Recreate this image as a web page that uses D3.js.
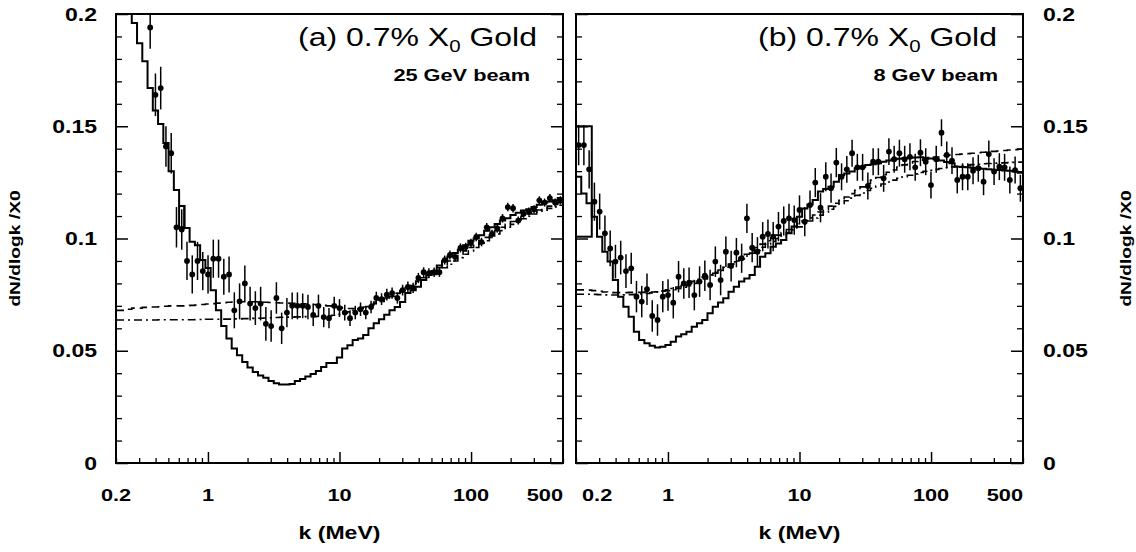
<!DOCTYPE html>
<html>
<head>
<meta charset="utf-8">
<script src="https://cdn.jsdelivr.net/npm/d3@7"></script>
<style>
  body { margin: 0; background: #fff; }
  text { font-family: "Liberation Sans", Arial, sans-serif; fill: #000; }
</style>
</head>
<body>
<svg id="chart" width="1136" height="552"></svg>
<script>
// binning: 85 log-spaced bins from 0.2 to 500 MeV
const kMin = 0.2, kMax = 500, nBins = 85;
const xTickLabels = [0.2, 1, 10, 100, 500];
const xMajorTicks = [1, 10, 100];
const yTickLabels = [0, 0.05, 0.1, 0.15, 0.2];

// ---- panel (a) 25 GeV ----
const solidA = [
  0.240, 0.220, 0.205, 0.196, 0.187, 0.179, 0.167, 0.157, 0.151, 0.1425,
  0.130, 0.1216, 0.1145, 0.1047, 0.0985, 0.097, 0.0904, 0.0869, 0.077, 0.068,
  0.061, 0.0555, 0.051, 0.048, 0.045, 0.0425, 0.0405, 0.039, 0.038, 0.0365,
  0.0355, 0.035, 0.035, 0.0352, 0.0365, 0.0374, 0.0385, 0.0396, 0.041, 0.0428,
  0.0445, 0.0445, 0.047, 0.051, 0.0525, 0.0548, 0.0555, 0.057, 0.060, 0.0623,
  0.064, 0.066, 0.068, 0.0695, 0.0717, 0.0757, 0.077, 0.0785, 0.0815, 0.0837,
  0.0855, 0.088, 0.090, 0.092, 0.0935, 0.095, 0.097, 0.099, 0.100, 0.1015,
  0.1035, 0.105, 0.1065, 0.108, 0.109, 0.1105, 0.1115, 0.1125, 0.113, 0.114,
  0.115, 0.116, 0.1165, 0.117, 0.118
];
const dashedA = [
  0.068, 0.068, 0.0685, 0.069, 0.069, 0.0693, 0.0695, 0.0695, 0.0696, 0.0698,
  0.070, 0.070, 0.070, 0.070, 0.0702, 0.0704, 0.0706, 0.0708, 0.071, 0.0712,
  0.0714, 0.0716, 0.0717, 0.0718, 0.0718, 0.0718, 0.0718, 0.0717, 0.0716, 0.0715,
  0.0714, 0.0713, 0.0712, 0.0711, 0.071, 0.0709, 0.0708, 0.0706, 0.0704, 0.0702,
  0.070, 0.0697, 0.0693, 0.069, 0.0688, 0.0688, 0.069, 0.0695, 0.0702, 0.071,
  0.072, 0.073, 0.0742, 0.0755, 0.0768, 0.0781, 0.0795, 0.081, 0.0825, 0.084,
  0.0855, 0.087, 0.0885, 0.090, 0.0915, 0.093, 0.0945, 0.096, 0.0975, 0.099,
  0.1005, 0.102, 0.1035, 0.105, 0.1063, 0.1076, 0.1088, 0.1099, 0.1109, 0.1118,
  0.1127, 0.1136, 0.1144, 0.1152, 0.116
];
const dashDotA = [
  0.0637, 0.0637, 0.0637, 0.0637, 0.0637, 0.0637, 0.0637, 0.0637, 0.0638, 0.0638,
  0.0638, 0.0638, 0.0638, 0.0638, 0.0638, 0.0639, 0.0639, 0.064, 0.064, 0.064,
  0.0641, 0.0641, 0.0642, 0.0642, 0.0643, 0.0643, 0.0644, 0.0645, 0.0646, 0.0647,
  0.0648, 0.0649, 0.065, 0.065, 0.0651, 0.0651, 0.0652, 0.0652, 0.0653, 0.0654,
  0.0655, 0.0658, 0.0662, 0.0667, 0.0673, 0.068, 0.0688, 0.0697, 0.0707, 0.0717,
  0.0725, 0.0735, 0.0745, 0.0756, 0.0767, 0.0778, 0.079, 0.0802, 0.0814, 0.0827,
  0.084, 0.0855, 0.087, 0.0885, 0.090, 0.0915, 0.093, 0.0945, 0.096, 0.0975,
  0.099, 0.1005, 0.102, 0.1035, 0.105, 0.1063, 0.1076, 0.1088, 0.1099, 0.1109,
  0.1118, 0.1126, 0.1134, 0.1141, 0.1148
];
const pointsA = [
  null, null, null, null, null, null,
  0.194, 0.164, 0.167, 0.141, 0.138, 0.105, 0.104, 0.090, 0.084, 0.090,
  0.0855, 0.084, 0.091, 0.091, 0.083, 0.084, 0.068, 0.072, 0.080, 0.071,
  0.069, 0.071, 0.062, 0.061, 0.0735, 0.060, 0.067, 0.070, 0.070, 0.070,
  0.0695, 0.066, 0.070, 0.065, 0.0645, 0.070, 0.069, 0.067, 0.0645, 0.067,
  0.0685, 0.067, 0.0695, 0.0735, 0.073, 0.075, 0.0757, 0.0735, 0.077, 0.0784,
  0.078, 0.0824, 0.085, 0.0846, 0.085, 0.085, 0.0904, 0.0927, 0.0918, 0.0958,
  0.0962, 0.098, 0.1007, 0.0984, 0.105, 0.102, 0.1045, 0.109, 0.114, 0.1135,
  0.108, 0.111, 0.112, 0.113, 0.117, 0.116, 0.118, 0.116, 0.117
];
const errA = [
  null, null, null, null, null, null,
  0.0095, 0.0095, 0.0095, 0.009, 0.009, 0.009, 0.009, 0.0085, 0.0085, 0.0085,
  0.0085, 0.0085, 0.0085, 0.0085, 0.008, 0.008, 0.008, 0.008, 0.008, 0.0075,
  0.0075, 0.0075, 0.0075, 0.007, 0.007, 0.007, 0.0065, 0.006, 0.006, 0.0055,
  0.0055, 0.005, 0.005, 0.0045, 0.0045, 0.004, 0.004, 0.0035, 0.0035, 0.003,
  0.003, 0.003, 0.0028, 0.0028, 0.0026, 0.0026, 0.0025, 0.0025, 0.0024, 0.0024,
  0.0023, 0.0023, 0.0022, 0.0022, 0.0021, 0.0021, 0.002, 0.002, 0.002, 0.002,
  0.0019, 0.0019, 0.0019, 0.0019, 0.0019, 0.0019, 0.0019, 0.0019, 0.0019, 0.0019,
  0.0018, 0.0018, 0.0018, 0.0018, 0.0018, 0.0018, 0.0018, 0.0018, 0.0018
];
const boxBinsA = [12, 12];
const boxRangeA = [0.105, 0.1145];

// ---- panel (b) 8 GeV ----
const solidB = [
  0.1275, 0.120, 0.1157, 0.1097, 0.1008, 0.0941, 0.0897, 0.0815, 0.0741, 0.0696,
  0.0652, 0.0585, 0.0548, 0.0533, 0.0522, 0.0515, 0.0518, 0.0526, 0.054, 0.0563,
  0.0574, 0.0585, 0.0607, 0.0622, 0.0637, 0.0667, 0.0696, 0.0715, 0.0734, 0.0763,
  0.0785, 0.0808, 0.0822, 0.0837, 0.0874, 0.0919, 0.0934, 0.0963, 0.0978, 0.0993,
  0.1023, 0.1053, 0.1097, 0.1134, 0.1152, 0.1171, 0.1209, 0.122, 0.1231, 0.1253,
  0.1283, 0.129, 0.1298, 0.1313, 0.132, 0.1327, 0.1331, 0.1335, 0.1342, 0.1347,
  0.1353, 0.1355, 0.1357, 0.136, 0.1361, 0.1362, 0.136, 0.1356, 0.1353, 0.1347,
  0.1341, 0.1335, 0.132, 0.1319, 0.1317, 0.1315, 0.1313, 0.1311, 0.1308, 0.1306,
  0.1305, 0.1303, 0.1302, 0.1298, 0.1293
];
const dashedB = [
  0.0771, 0.0771, 0.077, 0.0768, 0.0765, 0.0762, 0.076, 0.0759, 0.0759, 0.0759,
  0.076, 0.076, 0.076, 0.0761, 0.0762, 0.0763, 0.0765, 0.0768, 0.0772, 0.0777,
  0.0783, 0.079, 0.080, 0.081, 0.082, 0.0832, 0.0845, 0.0858, 0.0872, 0.0886,
  0.090, 0.0915, 0.093, 0.0945, 0.096, 0.0975, 0.099, 0.1003, 0.1015, 0.1027,
  0.104, 0.1053, 0.1066, 0.1079, 0.1092, 0.1105, 0.1118, 0.1131, 0.1144, 0.1157,
  0.117, 0.1185, 0.120, 0.1215, 0.123, 0.1245, 0.126, 0.1272, 0.1284, 0.1295,
  0.1305, 0.1318, 0.1328, 0.1336, 0.1343, 0.1349, 0.1354, 0.1359, 0.1363, 0.1367,
  0.137, 0.1372, 0.1374, 0.1376, 0.1378, 0.138, 0.1382, 0.1384, 0.1386, 0.1388,
  0.139, 0.1392, 0.1394, 0.1396, 0.1398
];
const dashDotB = [
  0.0752, 0.0752, 0.0752, 0.0751, 0.075, 0.0749, 0.0748, 0.0748, 0.0748, 0.0749,
  0.075, 0.0751, 0.0753, 0.0755, 0.0758, 0.0762, 0.0766, 0.0771, 0.0777, 0.0784,
  0.0792, 0.080, 0.0809, 0.0818, 0.0828, 0.0838, 0.0849, 0.086, 0.0872, 0.0884,
  0.0896, 0.0909, 0.0922, 0.0935, 0.0948, 0.0961, 0.0974, 0.0987, 0.100, 0.1013,
  0.1026, 0.1039, 0.1052, 0.1065, 0.1078, 0.1091, 0.1104, 0.1117, 0.113, 0.1143,
  0.1156, 0.1168, 0.118, 0.1192, 0.1203, 0.1214, 0.1224, 0.1234, 0.1243, 0.1252,
  0.126, 0.1268, 0.1275, 0.1282, 0.1288, 0.1294, 0.1299, 0.1304, 0.1308, 0.1312,
  0.1316, 0.1319, 0.1322, 0.1325, 0.1327, 0.1329, 0.1331, 0.1333, 0.1334, 0.1335,
  0.1336, 0.1337, 0.1338, 0.1339, 0.134
];
const pointsB = [
  0.1416, 0.1416, 0.1308, 0.1164, 0.1120, 0.1023, 0.0956, 0.0897, 0.0915, 0.0855,
  0.0867, 0.0741, 0.0719, 0.0774, 0.0655, 0.0637, 0.0741, 0.0748, 0.0714, 0.0830,
  0.0800, 0.0803, 0.0748, 0.0808, 0.0834, 0.0793, 0.0897, 0.0815, 0.0941, 0.0877,
  0.0937, 0.0912, 0.1090, 0.0959, 0.0941, 0.1008, 0.1020, 0.1008, 0.1053, 0.1078,
  0.1090, 0.1082, 0.1127, 0.1075, 0.1149, 0.1249, 0.1137, 0.1275, 0.1224, 0.1338,
  0.1275, 0.1308, 0.1380, 0.1317, 0.1317, 0.1234, 0.1342, 0.1342, 0.1268, 0.1387,
  0.1353, 0.1380, 0.1353, 0.1364, 0.1317, 0.1382, 0.1342, 0.1238, 0.1353, 0.1471,
  0.1372, 0.1347, 0.1261, 0.1275, 0.1275, 0.1302, 0.1313, 0.1253, 0.1376, 0.1298,
  0.1320, 0.1317, 0.1261, 0.1305, 0.1224
];
const errB = [
  0.009, 0.009, 0.0085, 0.0085, 0.008, 0.008, 0.008, 0.0075, 0.0075, 0.0075,
  0.007, 0.007, 0.007, 0.007, 0.007, 0.007, 0.007, 0.007, 0.007, 0.007,
  0.0068, 0.0068, 0.0068, 0.0068, 0.0068, 0.0068, 0.0068, 0.0068, 0.0068, 0.0068,
  0.0065, 0.0065, 0.0065, 0.0065, 0.0065, 0.0065, 0.0065, 0.0065, 0.0065, 0.0065,
  0.0065, 0.0065, 0.0065, 0.0065, 0.0065, 0.0065, 0.0065, 0.0065, 0.0065, 0.0065,
  0.006, 0.006, 0.006, 0.006, 0.006, 0.006, 0.006, 0.006, 0.006, 0.006,
  0.006, 0.006, 0.006, 0.006, 0.006, 0.006, 0.006, 0.006, 0.006, 0.006,
  0.006, 0.006, 0.006, 0.006, 0.006, 0.006, 0.006, 0.006, 0.006, 0.006,
  0.006, 0.006, 0.006, 0.006, 0.006
];
const boxBinsB = [0, 2];
const boxRangeB = [0.1008, 0.150];

const titles = ["(a) 0.7% X", "(b) 0.7% X"];
const beams = ["25 GeV beam", "8 GeV beam"];
const yTitle = "dN/dlogk /X0";
const xTitle = "k (MeV)";

// ---------------------------------------------------------------
const svg = d3.select("#chart");
const plotTop = 14, plotBottom = 463;
const sx = 1.28; // the scanned lettering is wide
const binEdges = d3.range(nBins + 1).map(i => kMin * Math.pow(kMax / kMin, i / nBins));

const panels = [
  { id: "a", left: 116, right: 563, side: "left", solid: solidA, dashed: dashedA, dashDot: dashDotA,
    points: pointsA, err: errA, boxBins: boxBinsA, boxRange: boxRangeA, title: titles[0], beam: beams[0] },
  { id: "b", left: 576, right: 1023, side: "right", solid: solidB, dashed: dashedB, dashDot: dashDotB,
    points: pointsB, err: errB, boxBins: boxBinsB, boxRange: boxRangeB, title: titles[1], beam: beams[1] }
];

const y = d3.scaleLinear().domain([0, 0.2]).range([plotBottom, plotTop]);

function stretchedText(g, x, yy, anchor, size, weight) {
  return g.append("text")
    .attr("transform", "translate(" + x + "," + yy + ") scale(" + sx + ",1)")
    .attr("text-anchor", anchor)
    .attr("font-size", size)
    .attr("font-weight", weight);
}

panels.forEach(p => {
  const x = d3.scaleLog().domain([kMin, kMax]).range([p.left, p.right]);
  const g = svg.append("g");

  g.append("clipPath").attr("id", "clip-" + p.id)
    .append("rect").attr("x", p.left).attr("y", plotTop)
    .attr("width", p.right - p.left).attr("height", plotBottom - plotTop);
  const plot = g.append("g").attr("clip-path", "url(#clip-" + p.id + ")");

  // histogram style lines
  const step = d3.line().x(d => x(d[0])).y(d => y(d[1])).curve(d3.curveStepAfter);
  const toSteps = vals => {
    const pts = vals.map((v, i) => [binEdges[i], v]);
    pts.push([binEdges[vals.length], vals[vals.length - 1]]);
    return pts;
  };

  plot.append("path").datum(toSteps(p.dashDot))
    .attr("fill", "none").attr("stroke", "#000").attr("stroke-width", 1.6)
    .attr("stroke-dasharray", "8,4,2,4").attr("d", step);
  plot.append("path").datum(toSteps(p.dashed))
    .attr("fill", "none").attr("stroke", "#000").attr("stroke-width", 1.6)
    .attr("stroke-dasharray", "8,5").attr("d", step);
  plot.append("path").datum(toSteps(p.solid))
    .attr("fill", "none").attr("stroke", "#000").attr("stroke-width", 2).attr("d", step);

  plot.append("rect")
    .attr("x", x(binEdges[p.boxBins[0]]))
    .attr("width", x(binEdges[p.boxBins[1] + 1]) - x(binEdges[p.boxBins[0]]))
    .attr("y", y(p.boxRange[1]))
    .attr("height", y(p.boxRange[0]) - y(p.boxRange[1]))
    .attr("fill", "none").attr("stroke", "#000").attr("stroke-width", 2);

  // data points
  const pts = p.points.map((v, i) => ({
    k: Math.sqrt(binEdges[i] * binEdges[i + 1]), v: v, e: p.err[i]
  })).filter(d => d.v !== null);

  plot.selectAll(".err").data(pts).join("line")
    .attr("x1", d => x(d.k)).attr("x2", d => x(d.k))
    .attr("y1", d => y(d.v - d.e)).attr("y2", d => y(d.v + d.e))
    .attr("stroke", "#000").attr("stroke-width", 1.5);
  plot.selectAll(".pt").data(pts).join("circle")
    .attr("cx", d => x(d.k)).attr("cy", d => y(d.v)).attr("r", 2.9)
    .attr("fill", "#000");

  // frame
  g.append("rect").attr("x", p.left).attr("y", plotTop)
    .attr("width", p.right - p.left).attr("height", plotBottom - plotTop)
    .attr("fill", "none").attr("stroke", "#000").attr("stroke-width", 2);

  // x ticks (pointing up)
  const minorK = x.ticks().filter(t => xMajorTicks.indexOf(t) < 0);
  g.append("g").attr("transform", "translate(0," + plotBottom + ")")
    .call(d3.axisBottom(x).tickValues(minorK).tickSize(-5).tickFormat(""))
    .call(a => a.select(".domain").remove())
    .call(a => a.selectAll("line").attr("stroke-width", 1.3));
  g.append("g").attr("transform", "translate(0," + plotBottom + ")")
    .call(d3.axisBottom(x).tickValues(xMajorTicks).tickSize(-11).tickFormat(""))
    .call(a => a.select(".domain").remove())
    .call(a => a.selectAll("line").attr("stroke-width", 1.5));

  // y ticks on both edges (pointing in)
  const yMinor = d3.range(0, 0.2001, 0.01).filter(v => Math.abs(v / 0.05 - Math.round(v / 0.05)) > 1e-6);
  [[d3.axisLeft, p.left], [d3.axisRight, p.right]].forEach(([ax, pos]) => {
    g.append("g").attr("transform", "translate(" + pos + ",0)")
      .call(ax(y).tickValues(yMinor).tickSize(-6).tickFormat(""))
      .call(a => a.select(".domain").remove())
      .call(a => a.selectAll("line").attr("stroke-width", 1.3));
    g.append("g").attr("transform", "translate(" + pos + ",0)")
      .call(ax(y).tickValues(yTickLabels).tickSize(-12).tickFormat(""))
      .call(a => a.select(".domain").remove())
      .call(a => a.selectAll("line").attr("stroke-width", 1.5));
  });

  // y tick labels
  yTickLabels.forEach(v => {
    const lx = p.side === "left" ? p.left - 19 : p.right + 20;
    stretchedText(g, lx, y(v) + 6.5, p.side === "left" ? "end" : "start", 18, "bold")
      .text(String(v));
  });

  // x tick labels
  xTickLabels.forEach((k, i) => {
    let anchor = "middle", dx = 0;
    if (i === xTickLabels.length - 1) anchor = "end";
    if (i === 0 && p.side === "right") { anchor = "start"; dx = 6; }
    stretchedText(g, x(k) + dx, 501, anchor, 17, "bold").text(String(k));
  });

  // x title
  stretchedText(g, x(10), 539, "middle", 18, "bold").text(xTitle);

  // y title
  const tx = p.side === "left" ? 20 : 1131;
  g.append("text")
    .attr("transform", "translate(" + tx + "," + ((plotTop + plotBottom) / 2 + 10) + ") rotate(-90) scale(" + sx + ",1)")
    .attr("text-anchor", "middle").attr("font-size", 15).attr("font-weight", "bold")
    .text(yTitle);

  // annotation
  const t = stretchedText(g, p.right - 26, 46, "end", 25, "normal");
  t.append("tspan").text(p.title);
  t.append("tspan").attr("font-size", 16).attr("dy", 6).text("0");
  t.append("tspan").attr("dy", -6).text(" Gold");
  stretchedText(g, p.right - 33 + (p.side === "right" ? 8 : 0), 81, "end", 17, "bold").text(p.beam);
});
</script>
</body>
</html>
